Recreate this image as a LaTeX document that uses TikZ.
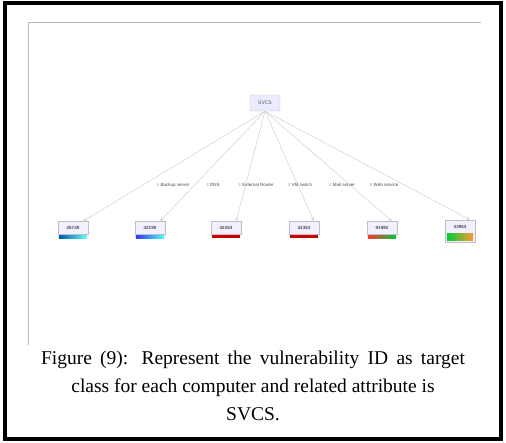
\documentclass[tikz,border=0pt]{standalone}
\usepackage{fontspec}
\setmainfont{Liberation Serif}
\setsansfont{Liberation Sans}
\usetikzlibrary{arrows.meta}
\begin{document}
\begin{tikzpicture}[x=1pt,y=-1pt,
  root/.style={draw=gray!45,fill=blue!8,rounded corners=2pt,minimum width=30pt,minimum height=16pt,font=\sffamily\fontsize{5}{6}\selectfont,text=gray!70!black,inner sep=1pt},
  leaf/.style={draw=gray!50,fill=blue!6,minimum width=30pt,minimum height=13pt,font=\sffamily\bfseries\fontsize{4.5}{5}\selectfont,text=black!70,inner sep=1pt},
  elabel/.style={font=\sffamily\fontsize{4.5}{5}\selectfont,text=gray!60!black,inner sep=0.5pt},
  edge/.style={draw=gray!35,line width=0.5pt,-{Stealth[length=4pt,width=3pt]}},
  caption/.style={font=\fontsize{19.5}{28}\selectfont,align=center}
]
\useasboundingbox (0,0) rectangle (506,442);
\fill[white] (0,0) rectangle (506,442);
% outer frame
\draw[line width=4.5pt,black] (5,3) rectangle (501,439);
% plot frame
\draw[gray!55,line width=0.8pt] (28,345) -- (28,22) -- (481,22);
% root
\node[root] (svcs) at (265,103) {SVCS};
% leaves
\node[leaf] (l1) at (73,228) {26748};
\node[leaf] (l2) at (150,228) {42198};
\node[leaf] (l3) at (226,228) {42363};
\node[leaf] (l4) at (304,228) {42363};
\node[leaf] (l5) at (382,228) {91992};
\node[leaf,minimum height=22pt,text depth=8pt] (l6) at (460,231) {43963};
% colour bars
\shade[left color=teal!70!blue,right color=cyan!60] ([xshift=1pt,yshift=-0.5pt]l1.south west) rectangle ([xshift=-1pt,yshift=-3.5pt]l1.south east);
\shade[left color=blue!80,right color=cyan!70] ([xshift=1pt,yshift=-0.5pt]l2.south west) rectangle ([xshift=-1pt,yshift=-3.5pt]l2.south east);
\fill[red!80!black] ([xshift=1pt,yshift=-0.5pt]l3.south west) rectangle ([xshift=-1pt,yshift=-3.5pt]l3.south east);
\fill[red!80!black] ([xshift=1pt,yshift=-0.5pt]l4.south west) rectangle ([xshift=-1pt,yshift=-3.5pt]l4.south east);
\shade[left color=red!80,middle color=yellow!90!orange,right color=green!60!teal] ([xshift=1pt,yshift=-0.5pt]l5.south west) rectangle ([xshift=-1pt,yshift=-3.5pt]l5.south east);
\shade[left color=green!60!teal,middle color=yellow,right color=orange!80] ([xshift=2pt,yshift=2pt]l6.south west) rectangle ([xshift=-2pt,yshift=9pt]l6.south east);
% edges
\foreach \n in {l1,l2,l3,l4,l5,l6}{
  \path[edge] (svcs.south) -- ([xshift=10pt]\n.north);
}
% edge labels
\node[elabel] (e1) at (173,185) {= Backup server};
\node[elabel] (e2) at (213,185) {= DNS};
\node[elabel] (e3) at (256,185) {= External Router};
\node[elabel] (e4) at (300,185) {= VM switch};
\node[elabel] (e5) at (342,185) {= Mail server};
\node[elabel] (e6) at (384,185) {= Web service};
% caption
\node[caption] (cap) at (253,386) {\makebox[424pt][s]{Figure (9): Represent the vulnerability ID as target}\\class for each computer and related attribute is\\SVCS.};
\end{tikzpicture}
\end{document}
